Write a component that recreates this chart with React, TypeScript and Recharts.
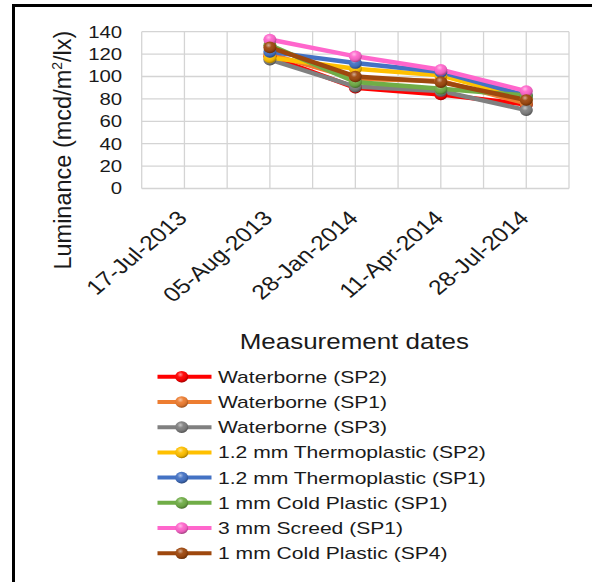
import React from 'react';
import { LineChart, Line, XAxis, YAxis, CartesianGrid, Legend } from 'recharts';

const categories = ['17-Jul-2013', '05-Aug-2013', '28-Jan-2014', '11-Apr-2014', '28-Jul-2014'];

const seriesNames = [
  'Waterborne (SP2)',
  'Waterborne (SP1)',
  'Waterborne (SP3)',
  '1.2 mm Thermoplastic (SP2)',
  '1.2 mm Thermoplastic (SP1)',
  '1 mm Cold Plastic (SP1)',
  '3 mm Screed (SP1)',
  '1 mm Cold Plastic (SP4)',
];

const seriesColors = ['#FF0000', '#ED7D31', '#808080', '#FFC000', '#4472C4', '#70AD47', '#FF66CC', '#9E480E'];

const waterborneSP2 = [null, 118, 90, 84, 75];
const waterborneSP1 = [null, 120, 98, 96, 76];
const waterborneSP3 = [null, 115, 91, 87, 70];
const thermoplastic12SP2 = [null, 117, 107, 101, 80];
const thermoplastic12SP1 = [null, 122, 112, 104, 83];
const coldPlastic1SP1 = [null, 128, 95, 89, 83];
const screed3SP1 = [null, 133, 118, 106, 87];
const coldPlastic1SP4 = [null, 126, 100, 95, 79];

const yTicks = [0, 20, 40, 60, 80, 100, 120, 140];

const seriesValues = [
  waterborneSP2,
  waterborneSP1,
  waterborneSP3,
  thermoplastic12SP2,
  thermoplastic12SP1,
  coldPlastic1SP1,
  screed3SP1,
  coldPlastic1SP4,
];

const data = categories.map((c, i) => {
  const row: any = { date: c };
  seriesValues.forEach((vals, j) => {
    row['s' + j] = vals[i];
  });
  return row;
});

const FONT = '"Liberation Sans", Arial, sans-serif';
const TEXT = '#1a1a1a';

const makeDot = (color: string) => (props: any) => {
  const { cx, cy, index } = props;
  if (cx == null || cy == null || isNaN(cx) || isNaN(cy) || props.value == null) {
    return <g key={'d' + index} />;
  }
  return (
    <g key={'d' + index}>
      <ellipse cx={cx} cy={cy} rx={6.5} ry={5.8} fill={color} />
      <ellipse cx={cx} cy={cy} rx={6.5} ry={5.8} fill="url(#shadeGrad)" />
    </g>
  );
};

const XTick = (props: any) => {
  const { x, y, payload } = props;
  return (
    <g transform={`translate(${x + 4},${y + 31}) scale(1.2,1) rotate(-45)`}>
      <text x={0} y={0} textAnchor="end" fontSize={20.5} fontFamily={FONT} fill={TEXT}>
        {payload.value}
      </text>
    </g>
  );
};

const YTick = (props: any) => {
  const { x, y, payload } = props;
  return (
    <g transform={`translate(${x - 19.5},${y}) scale(1.2,1)`}>
      <text x={0} y={0} dy="0.35em" textAnchor="end" fontSize={17} fontFamily={FONT} fill={TEXT}>
        {payload.value}
      </text>
    </g>
  );
};

const YLabel = (props: any) => {
  const vb = props.viewBox || { x: 0, y: 0, width: 0, height: 0 };
  const cx = vb.x + 71;
  const cy = vb.y + vb.height / 2 + 40;
  return (
    <text
      transform={`translate(${cx},${cy}) rotate(-90)`}
      textAnchor="middle"
      fontSize={23.5}
      fontFamily={FONT}
      fill={TEXT}
    >
      Luminance (mcd/m<tspan fontSize={14} dy={-9}>2</tspan>
      <tspan dy={9}>/lx)</tspan>
    </text>
  );
};

const XLabel = (props: any) => {
  const vb = props.viewBox || { x: 0, y: 0, width: 0, height: 0 };
  const cx = vb.x + vb.width / 2 - 1;
  const cy = vb.y + 160.5;
  return (
    <g transform={`translate(${cx},${cy}) scale(1.18,1)`}>
      <text x={0} y={0} textAnchor="middle" fontSize={22} fontFamily={FONT} fill={TEXT}>
        Measurement dates
      </text>
    </g>
  );
};

const LegendContent = (props: any) => {
  const payload = [...(props.payload || [])].sort(
    (a: any, b: any) => seriesNames.indexOf(a.value) - seriesNames.indexOf(b.value)
  );
  return (
    <svg width={592} height={205} style={{ display: 'block' }}>
      {payload.map((p: any, i: number) => {
        const cy = 12.7 + i * 25.23;
        const color = p.color;
        return (
          <g key={'l' + i}>
            <line x1={157.5} x2={211.5} y1={cy} y2={cy} stroke={color} strokeWidth={4} />
            <ellipse cx={181.7} cy={cy} rx={6.5} ry={5.8} fill={color} />
            <ellipse cx={181.7} cy={cy} rx={6.5} ry={5.8} fill="url(#shadeGrad)" />
            <g transform={`translate(218,${cy}) scale(1.27,1)`}>
              <text x={0} y={0} dy="0.36em" fontSize={16.6} fontFamily={FONT} fill={TEXT}>
                {p.value}
              </text>
            </g>
          </g>
        );
      })}
    </svg>
  );
};

const verticalGrid = ({ offset }: any) => {
  const pts: number[] = [];
  const n = categories.length * 2;
  for (let i = 0; i <= n; i++) {
    pts.push(offset.left + (offset.width * i) / n);
  }
  return pts;
};

export default function App() {
  return (
    <div style={{ position: 'absolute', left: 0, top: 0, width: 592, height: 582, background: '#fff' }}>
      <svg width={0} height={0} style={{ position: 'absolute' }}>
        <defs>
          <radialGradient id="shadeGrad" cx="40%" cy="32%" r="70%">
            <stop offset="0%" stopColor="#ffffff" stopOpacity={0.55} />
            <stop offset="35%" stopColor="#ffffff" stopOpacity={0.05} />
            <stop offset="75%" stopColor="#000000" stopOpacity={0.1} />
            <stop offset="100%" stopColor="#000000" stopOpacity={0.4} />
          </radialGradient>
        </defs>
      </svg>
      <div
        style={{
          position: 'absolute',
          left: 12,
          top: 4,
          width: 592,
          height: 600,
          borderTop: '3px solid #000',
          borderLeft: '3px solid #000',
          boxSizing: 'border-box',
        }}
      />
      <div style={{ position: 'absolute', left: 0, top: 0 }}>
        <LineChart
          width={592}
          height={582}
          data={data}
          margin={{ top: 31.7, right: 23, left: 0, bottom: 28.5 }}
        >
          <CartesianGrid
            stroke="#d4d4d4"
            strokeWidth={1.3}
            verticalCoordinatesGenerator={verticalGrid}
          />
          <XAxis
            dataKey="date"
            type="category"
            interval={0}
            padding={{ left: 42.7, right: 42.7 }}
            axisLine={false}
            tickLine={false}
            tickSize={0}
            tickMargin={0}
            height={160}
            tick={<XTick />}
            label={{ content: <XLabel /> } as any}
          />
          <YAxis
            type="number"
            domain={[0, 140]}
            ticks={yTicks}
            interval={0}
            axisLine={false}
            tickLine={false}
            tickSize={0}
            tickMargin={0}
            width={141.7}
            tick={<YTick />}
            label={{ content: <YLabel /> } as any}
          />
          <Legend
            verticalAlign="bottom"
            itemSorter={null as any}
            content={<LegendContent />}
            wrapperStyle={{ left: 0, top: 364, bottom: 'auto', width: 592, height: 205 }}
          />
          {seriesNames.map((name, j) => (
            <Line
              key={name}
              type="linear"
              dataKey={'s' + j}
              name={name}
              stroke={seriesColors[j]}
              strokeWidth={4.5}
              dot={makeDot(seriesColors[j])}
              activeDot={false}
              isAnimationActive={false}
            />
          ))}
        </LineChart>
      </div>
    </div>
  );
}
